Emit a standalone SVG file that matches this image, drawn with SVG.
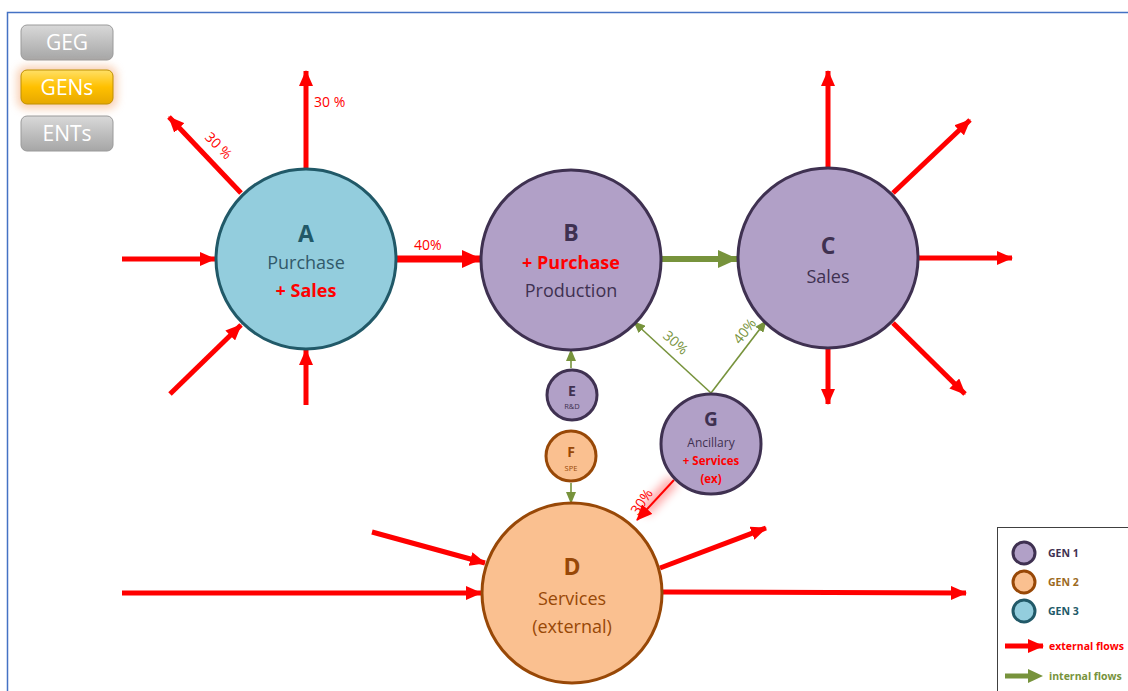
<svg xmlns="http://www.w3.org/2000/svg" width="1128" height="691" viewBox="0 0 1128 691">
<defs>
<style>
.red{stroke:#ff0000;stroke-width:5;fill:none;marker-end:url(#ra)}
.grn{stroke:#77933c;stroke-width:1.6;fill:none;marker-end:url(#ga)}
.t{font-family:"Open Sans","Noto Sans",sans-serif;text-anchor:middle}
.b{font-weight:bold}
.p1{fill:#b1a0c7;stroke:#3f3151;stroke-width:3}
.p2{fill:#fac090;stroke:#984807;stroke-width:3}
.p3{fill:#93cddd;stroke:#215968;stroke-width:3}
.btn{stroke:#9a9a9a;stroke-width:1}
.bt{font-family:"Open Sans","Noto Sans",sans-serif;font-size:21px;fill:#ffffff;text-anchor:middle}
.lab{font-family:"Open Sans","Noto Sans",sans-serif;font-size:14px;fill:#ff0000}
.glab{font-family:"Open Sans","Noto Sans",sans-serif;font-size:14px;fill:#77933c}
.lg{font-family:"Open Sans","Noto Sans",sans-serif;font-size:10.5px;font-weight:bold}
</style>
<marker id="ra" markerUnits="userSpaceOnUse" markerWidth="16" markerHeight="14" refX="15" refY="7" orient="auto"><path d="M0,0 L16,7 L0,14 z" fill="#ff0000"/></marker>
<marker id="ga" markerUnits="userSpaceOnUse" markerWidth="12" markerHeight="10" refX="11" refY="5" orient="auto"><path d="M0,0 L12,5 L0,10 z" fill="#77933c"/></marker>
<marker id="gb" markerUnits="userSpaceOnUse" markerWidth="20" markerHeight="18" refX="19" refY="9" orient="auto"><path d="M0,0 L20,9 L0,18 z" fill="#77933c"/></marker>
<marker id="rb" markerUnits="userSpaceOnUse" markerWidth="20" markerHeight="18" refX="19" refY="9" orient="auto"><path d="M0,0 L20,9 L0,18 z" fill="#ff0000"/></marker>
<linearGradient id="gray" x1="0" y1="0" x2="0" y2="1"><stop offset="0" stop-color="#d9d9d9"/><stop offset="0.5" stop-color="#bfbfbf"/><stop offset="1" stop-color="#a6a6a6"/></linearGradient>
<linearGradient id="gold" x1="0" y1="0" x2="0" y2="1"><stop offset="0" stop-color="#ffe066"/><stop offset="0.5" stop-color="#ffc000"/><stop offset="1" stop-color="#e6a800"/></linearGradient>
<filter id="glow" x="-50%" y="-50%" width="200%" height="200%"><feGaussianBlur stdDeviation="5"/></filter>
<filter id="bglow" x="-30%" y="-50%" width="160%" height="200%"><feGaussianBlur stdDeviation="4"/></filter>
</defs>
<rect width="1128" height="691" fill="#ffffff"/>
<path d="M7.5,691 V12.5 H1128" fill="none" stroke="#4472c4" stroke-width="1.5"/>

<g id="buttons">
<g id="btn-geg"><rect x="21" y="25" width="92" height="35" rx="6" fill="url(#gray)" class="btn"/><text x="67" y="50" class="bt">GEG</text></g>
<g id="btn-gens"><rect x="17" y="66" width="100" height="43" rx="9" fill="#f4b183" opacity="0.6" filter="url(#bglow)"/><rect x="21" y="70" width="92" height="34" rx="6" fill="url(#gold)" stroke="#c09000" stroke-width="1"/><text x="67" y="95" class="bt">GENs</text></g>
<g id="btn-ents"><rect x="21" y="116" width="92" height="35" rx="6" fill="url(#gray)" class="btn"/><text x="67" y="141" class="bt">ENTs</text></g>
</g>

<g id="connectors">
<line x1="306" y1="168" x2="306" y2="71" class="red"/>
<line x1="241" y1="193" x2="169" y2="117" class="red"/>
<line x1="122" y1="259" x2="215" y2="259" class="red"/>
<line x1="170" y1="394" x2="241" y2="325" class="red"/>
<line x1="306" y1="405" x2="306" y2="350" class="red"/>
<line x1="397" y1="259" x2="470" y2="259" stroke="#ff0000" stroke-width="16" opacity="0.5" filter="url(#glow)"/>
<line x1="397" y1="259" x2="481" y2="259" stroke="#ff0000" stroke-width="7" marker-end="url(#rb)"/>
<line x1="661" y1="259" x2="737" y2="259" stroke="#77933c" stroke-width="6" marker-end="url(#gb)"/>
<line x1="828" y1="167" x2="828" y2="71" class="red"/>
<line x1="893" y1="193" x2="970" y2="120" class="red"/>
<line x1="919" y1="258" x2="1012" y2="258" class="red"/>
<line x1="893" y1="323" x2="965" y2="394" class="red"/>
<line x1="828" y1="349" x2="828" y2="404" class="red"/>
<line x1="571" y1="368" x2="571" y2="350" class="grn"/>
<line x1="571" y1="483" x2="571" y2="503" class="grn"/>
<line x1="711" y1="393" x2="634" y2="322" class="grn"/>
<line x1="711" y1="393" x2="766" y2="321" class="grn"/>
<line x1="674" y1="480" x2="644" y2="512" stroke="#ff0000" stroke-width="12" opacity="0.35" filter="url(#glow)"/>
<line x1="674" y1="480" x2="637" y2="520" stroke="#ff0000" stroke-width="2" marker-end="url(#ra)"/>
<line x1="372" y1="532" x2="485" y2="563" class="red"/>
<line x1="122" y1="593" x2="481" y2="593" class="red"/>
<line x1="660" y1="568" x2="766" y2="528" class="red"/>
<line x1="663" y1="592" x2="966" y2="593" class="red"/>
</g>

<g id="labels">
<text x="314" y="107" class="lab">30 %</text>
<text transform="translate(204,138) rotate(45)" class="lab">30 %</text>
<text x="414" y="250" class="lab">40%</text>
<text transform="translate(662,337) rotate(42)" class="glab">30%</text>
<text transform="translate(740,345) rotate(-52)" class="glab">40%</text>
<text transform="translate(638,516) rotate(-56)" class="lab">30%</text>
</g>

<g id="node-A"><circle cx="306" cy="259" r="90" class="p3"/>
<text x="306" y="242" class="t b" font-size="23" fill="#215968">A</text>
<text x="306" y="269" class="t" font-size="18" fill="#31596a">Purchase</text>
<text x="306" y="297" class="t b" font-size="18" fill="#ff0000">+ Sales</text></g>

<g id="node-B"><circle cx="571" cy="260" r="90" class="p1"/>
<text x="571" y="241" class="t b" font-size="23" fill="#3f3151">B</text>
<text x="571" y="269" class="t b" font-size="18" fill="#ff0000">+ Purchase</text>
<text x="571" y="297" class="t" font-size="18" fill="#3f3151">Production</text></g>

<g id="node-C"><circle cx="828" cy="258" r="90" class="p1"/>
<text x="828" y="254" class="t b" font-size="23" fill="#3f3151">C</text>
<text x="828" y="283" class="t" font-size="18" fill="#3f3151">Sales</text></g>

<g id="node-D"><circle cx="572" cy="593" r="90" class="p2"/>
<text x="572" y="575" class="t b" font-size="23" fill="#984807">D</text>
<text x="572" y="605" class="t" font-size="18" fill="#984807">Services</text>
<text x="572" y="633" class="t" font-size="18" fill="#984807">(external)</text></g>

<g id="node-E"><circle cx="572" cy="395" r="25" class="p1"/>
<text x="572" y="396" class="t b" font-size="14" fill="#3f3151">E</text>
<text x="572" y="409" class="t" font-size="7.5" fill="#3f3151">R&amp;D</text></g>

<g id="node-F"><circle cx="571" cy="456" r="25" class="p2"/>
<text x="571" y="457" class="t b" font-size="14" fill="#984807">F</text>
<text x="571" y="471" class="t" font-size="7.5" fill="#984807">SPE</text></g>

<g id="node-G"><circle cx="711" cy="444" r="50" class="p1"/>
<text x="711" y="426" class="t b" font-size="19" fill="#3f3151">G</text>
<text x="711" y="447" class="t" font-size="12" fill="#3f3151">Ancillary</text>
<text x="711" y="465" class="t b" font-size="11.5" fill="#ff0000">+ Services</text>
<text x="711" y="483" class="t b" font-size="11.5" fill="#ff0000">(ex)</text></g>

<g id="legend">
<rect x="997.5" y="527.5" width="140" height="170" fill="#ffffff" stroke="#404040" stroke-width="1"/>
<circle cx="1024" cy="553" r="11" class="p1"/>
<circle cx="1024" cy="582" r="11" class="p2"/>
<circle cx="1024" cy="611" r="11" class="p3"/>
<text x="1048" y="557" class="lg" fill="#3f3151">GEN 1</text>
<text x="1048" y="586" class="lg" fill="#9c6a1e">GEN 2</text>
<text x="1048" y="615" class="lg" fill="#215968">GEN 3</text>
<line x1="1005" y1="646" x2="1043" y2="646" stroke="#ff0000" stroke-width="5" marker-end="url(#ra)"/>
<line x1="1005" y1="676" x2="1030" y2="676" stroke="#77933c" stroke-width="5"/>
<path d="M1028,669 L1043,676 L1028,683 z" fill="#77933c"/>
<text x="1049" y="650" class="lg" fill="#ff0000">external flows</text>
<text x="1049" y="680" class="lg" fill="#77933c">internal flows</text>
</g>
</svg>
